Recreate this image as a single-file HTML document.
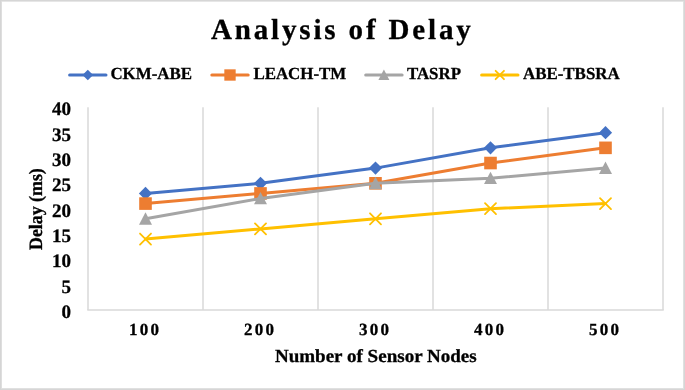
<!DOCTYPE html>
<html><head><meta charset="utf-8"><style>
html,body{margin:0;padding:0;background:#fff;}
body{width:685px;height:390px;overflow:hidden;position:relative;}
svg{position:absolute;left:0;top:0;display:block;will-change:transform;}
text{font-family:"Liberation Serif",serif;font-weight:bold;fill:#000;stroke:#000;stroke-width:0.3px;text-rendering:geometricPrecision;}
.yl{font-size:19px;}
.xl{font-size:17px;letter-spacing:2.2px;}
.lg{font-size:16.9px;}
.tt{font-size:29px;letter-spacing:2.84px;}
.at{font-size:18.4px;}
.at2{font-size:18.9px;}
</style></head><body>
<svg width="685" height="390" viewBox="0 0 685 390">
<g shape-rendering="crispEdges">
<rect x="0" y="0" width="685" height="1" fill="#d6d6d6"/><rect x="1" y="1" width="683" height="1" fill="#e6e6e6"/>
<rect x="0" y="389" width="685" height="1" fill="#d6d6d6"/><rect x="1" y="388" width="683" height="1" fill="#e0e0e0"/>
<rect x="0" y="0" width="1" height="390" fill="#d5d5d5"/><rect x="1" y="1" width="1" height="388" fill="#dedede"/>
<rect x="684" y="0" width="1" height="390" fill="#d6d6d6"/><rect x="683" y="1" width="1" height="388" fill="#e0e0e0"/>
</g>
<line x1="88.00" y1="107.30" x2="88.00" y2="310.00" stroke="#d9d9d9" stroke-width="1.5"/>
<line x1="203.00" y1="107.30" x2="203.00" y2="310.00" stroke="#d9d9d9" stroke-width="1.5"/>
<line x1="318.00" y1="107.30" x2="318.00" y2="310.00" stroke="#d9d9d9" stroke-width="1.5"/>
<line x1="433.00" y1="107.30" x2="433.00" y2="310.00" stroke="#d9d9d9" stroke-width="1.5"/>
<line x1="548.00" y1="107.30" x2="548.00" y2="310.00" stroke="#d9d9d9" stroke-width="1.5"/>
<line x1="663.00" y1="107.30" x2="663.00" y2="310.00" stroke="#d9d9d9" stroke-width="1.5"/>
<line x1="87.25" y1="310.00" x2="663.75" y2="310.00" stroke="#d9d9d9" stroke-width="1.5"/>
<polyline points="145.50,193.45 260.50,183.31 375.50,168.11 490.50,147.84 605.50,132.64" fill="none" stroke="#4472C4" stroke-width="3" stroke-linejoin="round" stroke-linecap="round"/>
<path d="M145.50 186.85L152.10 193.45L145.50 200.05L138.90 193.45Z" fill="#4472C4"/>
<path d="M260.50 176.71L267.10 183.31L260.50 189.91L253.90 183.31Z" fill="#4472C4"/>
<path d="M375.50 161.51L382.10 168.11L375.50 174.71L368.90 168.11Z" fill="#4472C4"/>
<path d="M490.50 141.24L497.10 147.84L490.50 154.44L483.90 147.84Z" fill="#4472C4"/>
<path d="M605.50 126.04L612.10 132.64L605.50 139.24L598.90 132.64Z" fill="#4472C4"/>
<polyline points="145.50,203.58 260.50,193.45 375.50,183.31 490.50,163.04 605.50,147.84" fill="none" stroke="#ED7D31" stroke-width="3" stroke-linejoin="round" stroke-linecap="round"/>
<rect x="139.20" y="197.28" width="12.60" height="12.60" fill="#ED7D31"/>
<rect x="254.20" y="187.15" width="12.60" height="12.60" fill="#ED7D31"/>
<rect x="369.20" y="177.01" width="12.60" height="12.60" fill="#ED7D31"/>
<rect x="484.20" y="156.74" width="12.60" height="12.60" fill="#ED7D31"/>
<rect x="599.20" y="141.54" width="12.60" height="12.60" fill="#ED7D31"/>
<polyline points="145.50,218.78 260.50,198.52 375.50,183.31 490.50,178.25 605.50,168.11" fill="none" stroke="#A5A5A5" stroke-width="3" stroke-linejoin="round" stroke-linecap="round"/>
<path d="M145.50 212.28L152.00 224.63L139.00 224.63Z" fill="#A5A5A5"/>
<path d="M260.50 192.02L267.00 204.37L254.00 204.37Z" fill="#A5A5A5"/>
<path d="M375.50 176.81L382.00 189.16L369.00 189.16Z" fill="#A5A5A5"/>
<path d="M490.50 171.75L497.00 184.09L484.00 184.09Z" fill="#A5A5A5"/>
<path d="M605.50 161.61L612.00 173.96L599.00 173.96Z" fill="#A5A5A5"/>
<polyline points="145.50,239.06 260.50,228.92 375.50,218.78 490.50,208.65 605.50,203.58" fill="none" stroke="#FFC000" stroke-width="3" stroke-linejoin="round" stroke-linecap="round"/>
<path d="M140.00 233.56L151.00 244.56M151.00 233.56L140.00 244.56" stroke="#FFC000" stroke-width="1.8" stroke-linecap="round" fill="none"/>
<path d="M255.00 223.42L266.00 234.42M266.00 223.42L255.00 234.42" stroke="#FFC000" stroke-width="1.8" stroke-linecap="round" fill="none"/>
<path d="M370.00 213.28L381.00 224.28M381.00 213.28L370.00 224.28" stroke="#FFC000" stroke-width="1.8" stroke-linecap="round" fill="none"/>
<path d="M485.00 203.15L496.00 214.15M496.00 203.15L485.00 214.15" stroke="#FFC000" stroke-width="1.8" stroke-linecap="round" fill="none"/>
<path d="M600.00 198.08L611.00 209.08M611.00 198.08L600.00 209.08" stroke="#FFC000" stroke-width="1.8" stroke-linecap="round" fill="none"/>
<text x="71.1" y="318.10" text-anchor="end" class="yl">0</text>
<text x="71.1" y="292.76" text-anchor="end" class="yl">5</text>
<text x="71.1" y="267.43" text-anchor="end" class="yl">10</text>
<text x="71.1" y="242.09" text-anchor="end" class="yl">15</text>
<text x="71.1" y="216.75" text-anchor="end" class="yl">20</text>
<text x="71.1" y="191.41" text-anchor="end" class="yl">25</text>
<text x="71.1" y="166.07" text-anchor="end" class="yl">30</text>
<text x="71.1" y="140.74" text-anchor="end" class="yl">35</text>
<text x="71.1" y="115.40" text-anchor="end" class="yl">40</text>
<text x="145.10" y="334.9" text-anchor="middle" class="xl">100</text>
<text x="260.10" y="334.9" text-anchor="middle" class="xl">200</text>
<text x="375.10" y="334.9" text-anchor="middle" class="xl">300</text>
<text x="490.10" y="334.9" text-anchor="middle" class="xl">400</text>
<text x="605.10" y="334.9" text-anchor="middle" class="xl">500</text>
<line x1="69.6" y1="75.0" x2="106.0" y2="75.0" stroke="#4472C4" stroke-width="3" stroke-linecap="round"/>
<path d="M87.80 69.66L93.14 75.00L87.80 80.34L82.46 75.00Z" fill="#4472C4"/>
<text x="110.4" y="79.2" class="lg">CKM-ABE</text>
<line x1="211.8" y1="75.0" x2="248.2" y2="75.0" stroke="#ED7D31" stroke-width="3" stroke-linecap="round"/>
<rect x="224.33" y="69.33" width="11.34" height="11.34" fill="#ED7D31"/>
<text x="253.39999999999998" y="79.2" class="lg">LEACH-TM</text>
<line x1="365.7" y1="75.0" x2="402.09999999999997" y2="75.0" stroke="#A5A5A5" stroke-width="3" stroke-linecap="round"/>
<path d="M383.90 69.51L389.39 79.94L378.41 79.94Z" fill="#A5A5A5"/>
<text x="406.9" y="79.2" class="lg">TASRP</text>
<line x1="481.6" y1="75.0" x2="518.0" y2="75.0" stroke="#FFC000" stroke-width="3" stroke-linecap="round"/>
<path d="M495.62 70.82L503.98 79.18M503.98 70.82L495.62 79.18" stroke="#FFC000" stroke-width="1.8" stroke-linecap="round" fill="none"/>
<text x="523.0" y="79.2" class="lg">ABE-TBSRA</text>
<text x="211" y="39.2" class="tt">Analysis of Delay</text>
<text transform="translate(274.9,361.8) scale(1.035,1)" x="0" y="0" class="at">Number of Sensor Nodes</text>
<text transform="translate(42.1,250.0) rotate(-90) scale(0.945,1)" x="0" y="0" class="at2">Delay (ms)</text>
</svg>
</body></html>
